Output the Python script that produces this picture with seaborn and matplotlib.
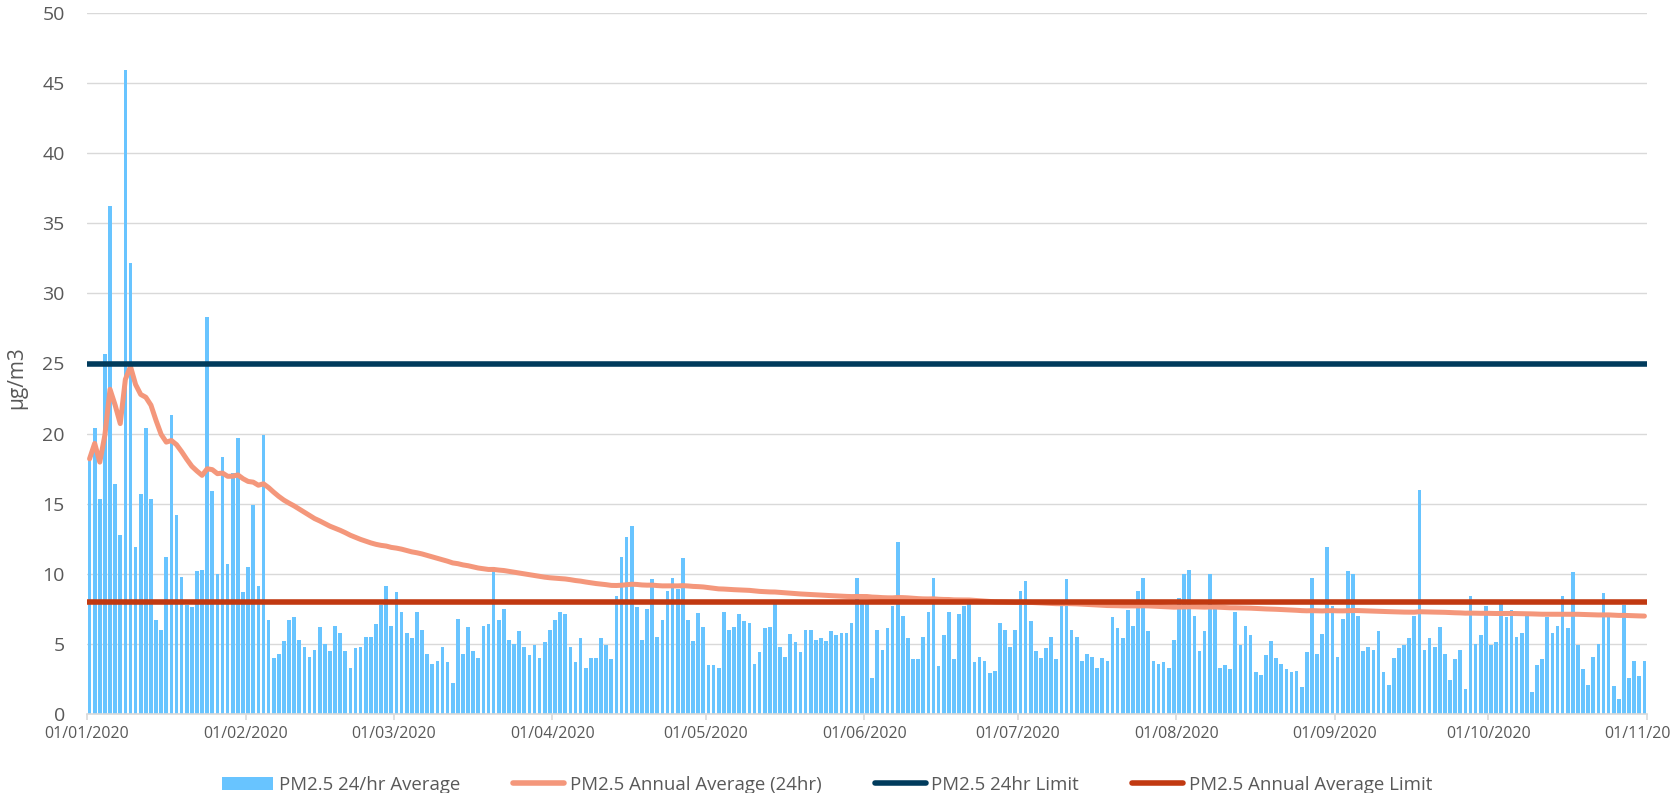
import pandas as pd
import numpy as np
import matplotlib
matplotlib.use("Agg")
import matplotlib.pyplot as plt
from matplotlib.patches import Patch
from matplotlib.lines import Line2D
import seaborn as sns

# =============================
# DATA (ug/m3 per day)
# =============================
jan = [18.2, 20.4, 15.3, 25.7, 36.2, 16.4, 12.8, 45.9, 32.2, 11.9, 15.7, 20.4, 15.3, 6.7, 6.0, 11.2,
       21.3, 14.2, 9.8, 7.8, 7.6, 10.2, 10.3, 28.3, 15.9, 10.0, 18.3, 10.7, 17.2, 19.7, 8.7]
feb = [10.5, 14.9, 9.1, 19.9, 6.7, 4.0, 4.3, 5.2, 6.7, 6.9, 5.3, 4.8, 4.1, 4.6, 6.2, 5.0, 4.5, 6.3,
       5.8, 4.5, 3.3, 4.7, 4.8, 5.5, 5.5, 6.4, 7.8, 9.1, 6.3]
mar = [8.7, 7.3, 5.8, 5.4, 7.3, 6.0, 4.3, 3.6, 3.8, 4.8, 3.7, 2.2, 6.8, 4.3, 6.2, 4.5, 4.0, 6.3, 6.4,
       10.5, 6.7, 7.5, 5.3, 5.0, 5.9, 4.8, 4.2, 4.9, 4.0, 5.1, 6.0]
apr = [6.7, 7.3, 7.1, 4.8, 3.7, 5.4, 3.3, 4.0, 4.0, 5.4, 4.9, 3.9, 8.4, 11.2, 12.6, 13.4, 7.6, 5.3,
       7.5, 9.6, 5.5, 6.7, 8.8, 9.7, 8.9, 11.1, 6.7, 5.2, 7.2, 6.2]
may = [3.5, 3.5, 3.3, 7.3, 6.0, 6.2, 7.1, 6.6, 6.5, 3.6, 4.4, 6.1, 6.2, 7.9, 4.8, 4.1, 5.7, 5.1, 4.4,
       6.0, 6.0, 5.3, 5.4, 5.2, 5.9, 5.6, 5.8, 5.8, 6.5, 9.7, 8.0]
jun = [7.9, 2.6, 6.0, 4.6, 6.1, 7.7, 12.3, 7.0, 5.4, 3.9, 3.9, 5.5, 7.3, 9.7, 3.4, 5.6, 7.3, 3.9, 7.1,
       7.7, 7.9, 3.7, 4.1, 3.8, 2.9, 3.1, 6.5, 6.0, 4.8, 6.0]
jul = [8.8, 9.5, 6.6, 4.5, 4.0, 4.7, 5.5, 3.9, 7.7, 9.6, 6.0, 5.5, 3.8, 4.3, 4.1, 3.3, 4.0, 3.8, 6.9,
       6.1, 5.4, 7.4, 6.3, 8.8, 9.7, 5.9, 3.8, 3.6, 3.7, 3.3, 5.3]
aug = [8.3, 10.0, 10.3, 7.0, 4.5, 5.9, 10.0, 7.5, 3.3, 3.5, 3.2, 7.3, 4.9, 6.3, 5.6, 3.0, 2.8, 4.2,
       5.2, 4.0, 3.6, 3.2, 3.0, 3.1, 1.9, 4.4, 9.7, 4.3, 5.7, 11.9, 7.7]
sep = [4.1, 6.8, 10.2, 10.0, 7.0, 4.5, 4.8, 4.6, 5.9, 3.0, 2.1, 4.0, 4.7, 4.9, 5.4, 7.0, 16.0, 4.6,
       5.4, 4.8, 6.2, 4.3, 2.4, 3.9, 4.6, 1.8, 8.4, 5.0, 5.6, 7.7]
oct_ = [4.9, 5.1, 7.9, 6.9, 7.4, 5.5, 5.8, 7.3, 1.6, 3.5, 3.9, 6.9, 5.8, 6.3, 8.4, 6.1, 10.1, 4.9,
        3.2, 2.1, 4.1, 5.0, 8.6, 6.9, 2.0, 1.1, 7.8, 2.6, 3.8, 2.7, 3.8]

limit_24hr = 25
limit_annual = 8

month_ticks = ["01/01/2020", "01/02/2020", "01/03/2020", "01/04/2020", "01/05/2020", "01/06/2020",
               "01/07/2020", "01/08/2020", "01/09/2020", "01/10/2020", "01/11/2020"]

# =============================
# BUILD TABLE
# =============================
pm25 = jan + feb + mar + apr + may + jun + jul + aug + sep + oct_
dates = pd.date_range("2020-01-01", periods=len(pm25), freq="D")
df = pd.DataFrame({"date": dates.strftime("%d/%m/%Y"), "pm25": pm25})
df["pos"] = np.arange(len(df))
# running annual average = mean of all days so far
df["annual_avg"] = df["pm25"].expanding().mean()

tick_dates = pd.to_datetime(month_ticks, dayfirst=True)
tick_pos = (tick_dates - dates[0]).days - 0.5

# =============================
# STYLE
# =============================
c_bar = "#68C4FF"
c_avg = "#F4977B"
c_24 = "#003B5C"
c_ann = "#C13911"
c_grid = "#D9D9D9"
c_txt = "#595959"

sns.set_style("white")
plt.rcParams["font.family"] = ["Open Sans", "DejaVu Sans"]

fig = plt.figure(figsize=(16.71, 7.93), dpi=100)
ax = fig.add_axes([87 / 1671, 1 - 714 / 793, (1647 - 87) / 1671, (714 - 13) / 793])

# =============================
# PLOT
# =============================
sns.barplot(data=df, x="date", y="pm25", color=c_bar, saturation=1, width=0.72,
            linewidth=0, errorbar=None, ax=ax, zorder=2)
sns.lineplot(data=df, x="pos", y="annual_avg", color=c_avg, linewidth=3.6,
             solid_capstyle="round", ax=ax, zorder=3)
ax.axhline(limit_24hr, color=c_24, linewidth=4.0, solid_capstyle="round", zorder=4)
ax.axhline(limit_annual, color=c_ann, linewidth=4.0, solid_capstyle="round", zorder=5)

# =============================
# AXES
# =============================
ax.set_xlim(tick_pos[0], tick_pos[-1])
ax.set_ylim(0, 50)
ax.set_yticks(np.arange(0, 51, 5))
ax.set_xticks(tick_pos)
ax.set_xticklabels(month_ticks)

ax.grid(axis="y", color=c_grid, linewidth=1.0, zorder=0)
ax.grid(axis="x", visible=False)
for s in ["top", "right", "left"]:
    ax.spines[s].set_visible(False)
ax.spines["bottom"].set_color(c_grid)
ax.spines["bottom"].set_linewidth(1.2)
ax.spines["bottom"].set_zorder(6)

ax.tick_params(axis="y", length=0, pad=16, labelsize=14, labelcolor=c_txt)
ax.tick_params(axis="x", length=4, width=1.2, color=c_grid, direction="out", pad=5,
               labelsize=11.5, labelcolor=c_txt, bottom=True)

ax.set_xlabel("")
ax.set_ylabel("µg/m3", fontsize=15, color=c_txt)
ax.yaxis.set_label_coords(-0.038, 0.48)

# =============================
# LEGEND
# =============================
handles = [
    Patch(facecolor=c_bar, edgecolor="none"),
    Line2D([], [], color=c_avg, linewidth=4, solid_capstyle="round"),
    Line2D([], [], color=c_24, linewidth=4, solid_capstyle="round"),
    Line2D([], [], color=c_ann, linewidth=4, solid_capstyle="round"),
]
labels = ["PM2.5 24/hr Average", "PM2.5 Annual Average (24hr)", "PM2.5 24hr Limit",
          "PM2.5 Annual Average Limit"]
fig.legend(handles, labels, loc="center", bbox_to_anchor=(0.495, 0.01), ncol=4, frameon=False,
           fontsize=13.4, labelcolor=c_txt, handlelength=2.75, handleheight=0.75,
           handletextpad=0.3, columnspacing=2.85, borderpad=0)

fig.savefig("out.png", dpi=100)
